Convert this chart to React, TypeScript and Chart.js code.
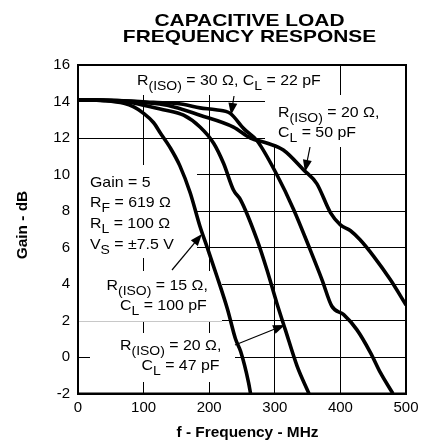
import React, { useEffect, useRef } from "react";
import { Chart, registerables } from "chart.js";
Chart.register(...registerables);

// ---- data ----
const xTickValues = [0, 100, 200, 300, 400, 500];
const yTickValues = [-2, 0, 2, 4, 6, 8, 10, 12, 14, 16];

// R(ISO)=15 Ω, CL=100 pF
const freq15_100 = [0, 40, 70, 85, 100, 115, 126, 140, 155, 171, 186, 197, 212, 228, 240, 248, 260, 263];
const gain15_100 = [14.1, 14.05, 13.9, 13.7, 13.35, 12.85, 12.25, 11.5, 10.5, 9.0, 7.15, 6.0, 4.4, 2.6, 1.0, 0.3, -1.4, -2];
// R(ISO)=20 Ω, CL=47 pF
const freq20_47 = [0, 50, 80, 100, 130, 161, 186, 207, 222, 237, 248, 273, 288, 303, 316, 334, 352];
const gain20_47 = [14.1, 14.05, 13.95, 13.8, 13.55, 13.25, 12.6, 11.7, 10.6, 9.15, 8.6, 6.42, 4.78, 2.96, 1.5, -0.5, -2];
// R(ISO)=30 Ω, CL=22 pF
const freq30_22 = [0, 60, 115, 160, 186, 210, 232, 253, 273, 303, 329, 354, 372, 387, 405, 425, 446, 461, 480];
const gain30_22 = [14.1, 14.05, 13.95, 13.85, 13.65, 13.55, 13.35, 12.5, 11.85, 10.0, 8.06, 5.87, 4.23, 2.78, 2.32, 1.5, 0.23, -0.86, -2];
// R(ISO)=20 Ω, CL=50 pF
const freq20_50 = [0, 60, 100, 136, 186, 237, 263, 290, 313, 344, 364, 385, 400, 415, 430, 451, 476, 500];
const gain20_50 = [14.1, 14.05, 13.95, 13.8, 13.25, 12.6, 12.0, 11.7, 11.34, 10.25, 9.5, 7.9, 7.24, 6.93, 6.42, 5.5, 4.24, 2.85];

const titleLines = ["CAPACITIVE LOAD", "FREQUENCY RESPONSE"];
const xTitle = "f - Frequency - MHz";
const yTitle = "Gain - dB";

type Seg = [string, boolean?];
const FONT = '"Liberation Sans", Arial, Helvetica, sans-serif';

function drawRich(ctx: CanvasRenderingContext2D, x: number, y: number, segs: Seg[], size = 14.2, sx = 1.12) {
  ctx.save();
  ctx.translate(x, y);
  ctx.scale(sx, 1);
  ctx.fillStyle = "#000";
  ctx.textBaseline = "alphabetic";
  ctx.textAlign = "left";
  let cx = 0;
  for (const [t, sub] of segs) {
    ctx.font = `${sub ? size * 0.88 : size}px ${FONT}`;
    ctx.fillText(t, cx, sub ? 4.5 : 0);
    cx += ctx.measureText(t).width;
  }
  ctx.restore();
}

function arrow(ctx: CanvasRenderingContext2D, x0: number, y0: number, x1: number, y1: number) {
  const ang = Math.atan2(y1 - y0, x1 - x0);
  const len = 12, half = 4.5;
  ctx.save();
  ctx.strokeStyle = "#000";
  ctx.fillStyle = "#000";
  ctx.lineWidth = 1.2;
  ctx.beginPath();
  ctx.moveTo(x0, y0);
  ctx.lineTo(x1 - Math.cos(ang) * len * 0.8, y1 - Math.sin(ang) * len * 0.8);
  ctx.stroke();
  const bx = x1 - Math.cos(ang) * len, by = y1 - Math.sin(ang) * len;
  ctx.beginPath();
  ctx.moveTo(x1, y1);
  ctx.lineTo(bx + Math.sin(ang) * half, by - Math.cos(ang) * half);
  ctx.lineTo(bx - Math.sin(ang) * half, by + Math.cos(ang) * half);
  ctx.closePath();
  ctx.fill();
  ctx.restore();
}

const labelPlugin = {
  id: "labels",
  beforeDatasetsDraw(chart: any) {
    const ctx: CanvasRenderingContext2D = chart.ctx;
    ctx.save();
    ctx.fillStyle = "#fff";
    ctx.fillRect(130, 66, 155, 29);
    ctx.fillRect(265, 95, 140, 52);
    ctx.fillRect(79, 165, 118, 93);
    ctx.fillRect(79, 271, 143, 50);
    ctx.fillRect(90, 333, 145, 49);
    const y2 = chart.scales.y.getPixelForValue(2);
    ctx.strokeStyle = "#c8c8c8";
    ctx.lineWidth = 1;
    ctx.beginPath();
    ctx.moveTo(79, Math.round(y2) + 0.5);
    ctx.lineTo(222, Math.round(y2) + 0.5);
    ctx.stroke();
    ctx.restore();
  },
  afterDatasetsDraw(chart: any) {
    const ctx: CanvasRenderingContext2D = chart.ctx;
    const a = chart.chartArea;
    ctx.save();
    ctx.strokeStyle = "#000";
    ctx.lineWidth = 2;
    ctx.strokeRect(a.left, a.top, a.right - a.left, a.bottom - a.top);
    ctx.restore();

    // title
    ctx.save();
    ctx.fillStyle = "#000";
    ctx.textAlign = "center";
    ctx.textBaseline = "alphabetic";
    ctx.font = `bold 17px ${FONT}`;
    titleLines.forEach((t, i) => {
      ctx.save();
      ctx.translate(249.5, 26 + i * 16);
      ctx.scale(1.23, 1);
      ctx.fillText(t, 0, 0);
      ctx.restore();
    });
    // axis titles
    ctx.font = `bold 14px ${FONT}`;
    ctx.save();
    ctx.translate(247.5, 436.5);
    ctx.scale(1.1, 1);
    ctx.fillText(xTitle, 0, 0);
    ctx.restore();
    ctx.save();
    ctx.translate(27, 225);
    ctx.rotate(-Math.PI / 2);
    ctx.scale(1.1, 1);
    ctx.fillText(yTitle, 0, 0);
    ctx.restore();
    ctx.restore();

    // annotations
    drawRich(ctx, 137, 85, [["R"], ["(ISO)", true], [" = 30 Ω, C"], ["L", true], [" = 22 pF"]]);
    drawRich(ctx, 278, 117, [["R"], ["(ISO)", true], [" = 20 Ω,"]]);
    drawRich(ctx, 278, 137, [["C"], ["L", true], [" = 50 pF"]]);
    drawRich(ctx, 90, 186.5, [["Gain = 5"]]);
    drawRich(ctx, 90, 207, [["R"], ["F", true], [" = 619 Ω"]]);
    drawRich(ctx, 90, 228, [["R"], ["L", true], [" = 100 Ω"]]);
    drawRich(ctx, 90, 249, [["V"], ["S", true], [" = ±7.5 V"]]);
    drawRich(ctx, 106.5, 290, [["R"], ["(ISO)", true], [" = 15 Ω,"]]);
    drawRich(ctx, 120, 310, [["C"], ["L", true], [" = 100 pF"]]);
    drawRich(ctx, 120, 350, [["R"], ["(ISO)", true], [" = 20 Ω,"]]);
    drawRich(ctx, 141.5, 370, [["C"], ["L", true], [" = 47 pF"]]);

    arrow(ctx, 234, 96, 231, 115);
    arrow(ctx, 310, 147, 305, 172);
    arrow(ctx, 172, 270, 202, 234);
    arrow(ctx, 235, 345, 285, 325);
  },
};

function series(f: number[], g: number[]) {
  return f.map((x, i) => ({ x, y: g[i] }));
}

export default function App() {
  const ref = useRef<HTMLCanvasElement>(null);
  useEffect(() => {
    if (!ref.current) return;
    const ds = (f: number[], g: number[]) => ({
      data: series(f, g),
      borderColor: "#000",
      borderWidth: 3.6,
      pointRadius: 0,
      fill: false,
      cubicInterpolationMode: "monotone" as const,
    });
    const chart = new Chart(ref.current, {
      type: "line",
      data: {
        datasets: [
          ds(freq15_100, gain15_100),
          ds(freq20_47, gain20_47),
          ds(freq30_22, gain30_22),
          ds(freq20_50, gain20_50),
        ],
      },
      options: {
        animation: false,
        responsive: false,
        layout: { padding: { top: 65, right: 23, left: 0, bottom: 0 } },
        plugins: { legend: { display: false }, tooltip: { enabled: false }, title: { display: false } },
        scales: {
          x: {
            type: "linear",
            min: 0,
            max: 500,
            afterFit: (s: any) => { s.height = 48.5; },
            afterBuildTicks: (s: any) => { s.ticks = xTickValues.map((v) => ({ value: v })); },
            grid: { color: "#000", lineWidth: 1, drawTicks: false },
            border: { color: "#000", width: 2 },
            ticks: { color: "#000", padding: 5, font: { size: 15, family: FONT }, maxRotation: 0 },
          },
          y: {
            type: "linear",
            min: -2,
            max: 16,
            afterFit: (s: any) => { s.width = 78; },
            afterBuildTicks: (s: any) => { s.ticks = yTickValues.map((v) => ({ value: v })); },
            grid: { color: "#000", lineWidth: 1, drawTicks: false },
            border: { color: "#000", width: 2 },
            ticks: { color: "#000", padding: 8, font: { size: 15, family: FONT } },
          },
        },
      },
      plugins: [labelPlugin],
    });
    return () => chart.destroy();
  }, []);
  return (
    <div style={{ position: "absolute", left: 0, top: 0, width: 429, height: 442, background: "#fff" }}>
      <canvas ref={ref} width={429} height={442} style={{ width: 429, height: 442, display: "block" }} />
    </div>
  );
}
